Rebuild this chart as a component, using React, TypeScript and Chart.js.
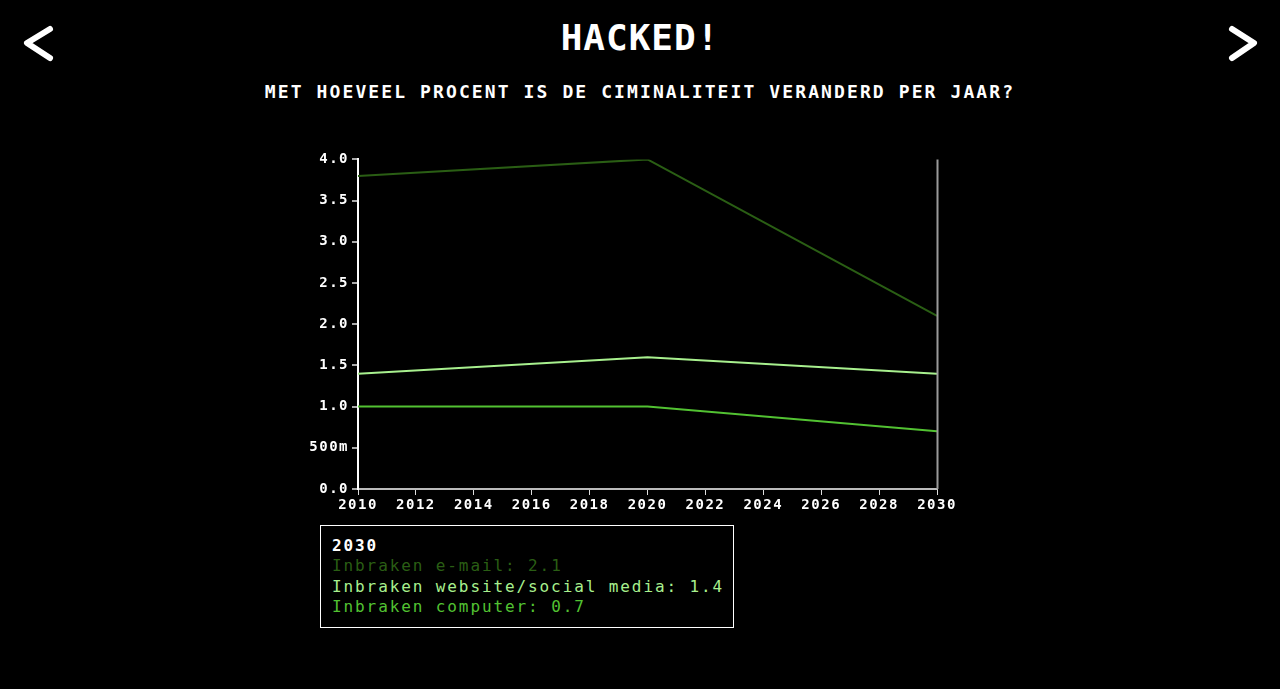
import React, { useEffect, useRef } from "react";
import { Chart, registerables } from "chart.js";

Chart.register(...registerables);

const years = [2010, 2020, 2030];
const emailValues = [3.8, 4.0, 2.1];
const websiteValues = [1.4, 1.6, 1.4];
const computerValues = [1.0, 1.0, 0.7];
const seriesNames = ["Inbraken e-mail", "Inbraken website/social media", "Inbraken computer"];
const seriesColors = ["#2a5e14", "#a8f08e", "#52c232"];
const tooltipYear = 2030;

const MONO = '"DejaVu Sans Mono", "Liberation Mono", monospace';

export default function App() {
  const canvasRef = useRef<HTMLCanvasElement | null>(null);

  useEffect(() => {
    document.body.style.margin = "0";
    document.body.style.background = "#000";
    const canvas = canvasRef.current;
    if (!canvas) return;
    const allSeries = [emailValues, websiteValues, computerValues];
    const crosshair = {
      id: "crosshair",
      beforeDraw(chart: any) {
        chart.ctx.letterSpacing = "1.5px";
      },
      afterDatasetsDraw(chart: any) {
        const { ctx, chartArea, scales } = chart;
        const x = Math.round(scales.x.getPixelForValue(tooltipYear)) + 0.5;
        ctx.save();
        ctx.strokeStyle = "#9a9a9a";
        ctx.lineWidth = 2;
        ctx.beginPath();
        ctx.moveTo(x, chartArea.top);
        ctx.lineTo(x, chartArea.bottom);
        ctx.stroke();
        ctx.restore();
      },
    };
    const chart = new Chart(canvas, {
      type: "line",
      data: {
        datasets: allSeries.map((vals, i) => ({
          label: seriesNames[i],
          data: years.map((yr, j) => ({ x: yr, y: vals[j] })),
          borderColor: seriesColors[i],
          backgroundColor: seriesColors[i],
          borderWidth: 2,
          pointRadius: 0,
          tension: 0,
          fill: false,
        })),
      },
      options: {
        animation: false,
        responsive: false,
        maintainAspectRatio: false,
        layout: { padding: { top: 9, right: 43, left: 0, bottom: 0 } },
        plugins: { legend: { display: false }, tooltip: { enabled: false } },
        scales: {
          x: {
            type: "linear",
            min: 2010,
            max: 2030,
            ticks: {
              stepSize: 2,
              color: "#ffffff",
              font: { family: MONO, size: 14, weight: "bold" },
              padding: 2,
              maxRotation: 0,
              callback: (v: any) => String(v),
            },
            grid: { drawOnChartArea: false, color: "#dddddd", tickLength: 6, lineWidth: 1 },
            border: { color: "#bbbbbb", width: 2 },
            afterFit: (s: any) => { s.height = 30; },
          },
          y: {
            min: 0,
            max: 4,
            ticks: {
              stepSize: 0.5,
              color: "#ffffff",
              font: { family: MONO, size: 14, weight: "bold" },
              padding: 3,
              callback: (v: any) => (v === 0.5 ? "500m" : Number(v).toFixed(1)),
            },
            grid: { drawOnChartArea: false, color: "#aaaaaa", tickLength: 6, lineWidth: 2 },
            border: { color: "#ffffff", width: 2 },
            afterFit: (s: any) => { s.width = 58; },
          },
        },
      },
      plugins: [crosshair],
    });
    return () => chart.destroy();
  }, []);

  const idx = years.indexOf(tooltipYear);
  const allSeries = [emailValues, websiteValues, computerValues];

  return (
    <div style={{ position: "relative", width: 1280, height: 689, background: "#000", overflow: "hidden", fontFamily: MONO }}>
      <svg width={1280} height={80} style={{ position: "absolute", left: 0, top: 0 }}>
        <polyline points="50,29 27,43 50,58" fill="none" stroke="#fff" strokeWidth={6} strokeLinecap="round" strokeLinejoin="round" />
        <polyline points="1232,29 1254,43 1232,58" fill="none" stroke="#fff" strokeWidth={6} strokeLinecap="round" strokeLinejoin="round" />
      </svg>
      <div style={{ position: "absolute", left: 0, top: 17, width: 1280, textAlign: "center", color: "#fff", fontSize: 36, fontWeight: "bold", letterSpacing: 1 }}>
        HACKED!
      </div>
      <div style={{ position: "absolute", left: 0, top: 81, width: 1280, textAlign: "center", color: "#fff", fontSize: 18, fontWeight: "bold", letterSpacing: 2.1 }}>
        MET HOEVEEL PROCENT IS DE CIMINALITEIT VERANDERD PER JAAR?
      </div>
      <canvas ref={canvasRef} width={680} height={371} style={{ position: "absolute", left: 300, top: 148, width: 680, height: 371 }} />
      <div style={{ position: "absolute", left: 320, top: 525, width: 414, height: 103, boxSizing: "border-box", border: "1px solid #fff", padding: "10px 11px 8px", fontSize: 16, lineHeight: "20.3px", letterSpacing: 1.9, whiteSpace: "nowrap" }}>
        <div style={{ color: "#fff", fontWeight: "bold" }}>{tooltipYear}</div>
        {seriesNames.map((n, i) => (
          <div key={n} style={{ color: seriesColors[i] }}>{n}: {allSeries[i][idx]}</div>
        ))}
      </div>
    </div>
  );
}
